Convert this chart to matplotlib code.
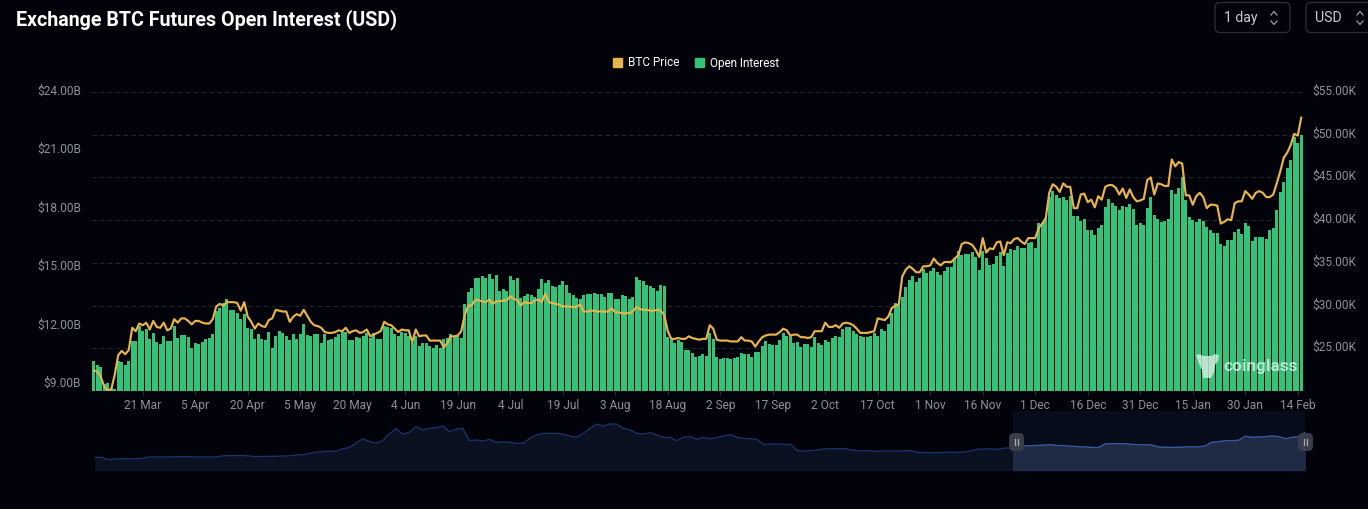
import matplotlib
matplotlib.use("Agg")
import matplotlib.pyplot as plt
import matplotlib.dates as mdates
from matplotlib.patches import FancyBboxPatch, Patch, Polygon, Rectangle
from matplotlib.transforms import ScaledTranslation
import pandas as pd

# -------------------------------
# Data
# -------------------------------
START_DATE = "2023-03-07"

open_interest_b = [
    10.17, 9.97, 9.86, 9.0, 9.03, 8.78, 8.73, 10.17, 10.15, 10.0, 10.2, 11.21, 11.22, 11.97, 11.72,
    11.82, 11.31, 11.6, 11.17, 11.07, 11.46, 11.21, 11.21, 11.96, 11.38, 11.5, 11.51, 11.4, 10.83, 11.09,
    11.07, 11.17, 11.31, 11.34, 11.55, 12.77, 12.91, 13.15, 13.37, 12.79, 12.79, 12.64, 12.33, 12.59, 11.87,
    11.84, 11.31, 11.55, 11.29, 11.26, 11.65, 10.85, 11.46, 11.7, 11.63, 11.48, 11.28, 11.55, 11.33, 11.55,
    12.06, 11.5, 11.46, 11.55, 11.55, 11.12, 11.57, 11.26, 11.31, 11.43, 11.58, 11.68, 11.67, 11.24, 11.28,
    11.41, 11.34, 11.45, 11.63, 11.36, 11.62, 11.31, 11.29, 11.97, 11.92, 11.89, 11.58, 11.46, 11.65, 11.62,
    11.45, 11.11, 11.48, 10.95, 11.12, 11.11, 10.94, 10.85, 11.02, 10.87, 11.33, 11.36, 11.58, 11.46, 11.46,
    11.36, 13.11, 13.71, 13.93, 14.46, 14.47, 14.54, 14.46, 14.66, 14.39, 14.59, 13.79, 13.86, 13.78, 14.54,
    14.34, 14.42, 13.42, 13.54, 13.62, 13.55, 13.49, 13.88, 14.37, 14.18, 14.32, 14.03, 14.0, 14.1, 14.29,
    14.08, 13.66, 13.57, 13.42, 13.38, 13.57, 13.62, 13.62, 13.66, 13.62, 13.61, 13.49, 13.69, 13.66, 13.35,
    13.37, 13.57, 13.5, 13.37, 13.45, 14.49, 14.35, 14.29, 14.1, 14.03, 13.93, 13.79, 14.08, 14.03, 11.41,
    11.24, 11.11, 11.24, 11.16, 10.73, 10.77, 10.61, 10.37, 10.44, 10.53, 10.46, 11.62, 11.31, 10.37, 10.27,
    10.31, 10.36, 10.27, 10.34, 10.39, 10.61, 10.53, 10.53, 10.41, 10.63, 10.65, 10.94, 11.23, 11.04, 11.0,
    10.99, 11.24, 11.6, 11.46, 11.48, 11.12, 11.14, 10.9, 11.04, 11.04, 10.88, 11.41, 11.09, 11.02, 11.26,
    11.17, 11.36, 11.48, 11.43, 11.84, 11.94, 11.94, 11.72, 11.57, 11.46, 11.41, 11.41, 11.45, 11.62, 11.45,
    11.82, 11.7, 12.08, 12.64, 13.18, 13.08, 13.49, 13.98, 14.35, 14.56, 14.24, 14.44, 14.92, 14.71, 14.81,
    14.97, 14.76, 14.61, 14.81, 15.03, 15.03, 15.46, 15.85, 15.61, 15.66, 15.66, 15.77, 15.53, 14.86, 15.83,
    15.48, 15.1, 15.15, 15.6, 15.8, 15.05, 15.73, 15.94, 15.88, 16.09, 15.97, 16.0, 16.24, 16.31, 15.97,
    17.25, 17.25, 17.53, 18.62, 18.9, 18.69, 18.54, 18.62, 18.45, 18.66, 17.62, 17.65, 17.36, 17.5, 16.89,
    16.92, 16.65, 17.01, 17.19, 18.08, 18.5, 18.3, 18.13, 17.93, 18.15, 18.11, 18.25, 18.01, 17.19, 17.26,
    17.16, 18.03, 18.62, 17.69, 17.5, 17.31, 17.36, 17.5, 18.95, 18.76, 19.08, 19.61, 18.45, 17.6, 17.4,
    17.33, 17.5, 17.36, 17.06, 16.89, 16.77, 16.75, 16.17, 16.11, 16.4, 16.41, 16.82, 16.94, 16.72, 17.28,
    17.13, 16.36, 16.55, 16.55, 16.53, 16.46, 16.89, 17.01, 17.96, 18.88, 19.37, 20.09, 20.51, 21.7, 21.4,
    21.79,
]

btc_price_k = [
    22.4, 22.3, 21.7, 20.5, 20.1, 20.2, 21.9, 24.2, 24.7, 24.3, 24.8, 27.4, 27.0, 27.9, 27.7,
    28.0, 27.2, 28.2, 27.5, 27.4, 28.0, 27.1, 27.3, 28.4, 28.0, 28.5, 28.5, 28.2, 27.8, 28.2,
    28.2, 28.0, 27.9, 27.9, 28.4, 29.9, 30.2, 30.0, 30.4, 30.4, 30.4, 30.3, 29.4, 30.4, 28.7,
    28.1, 27.3, 27.9, 27.6, 27.5, 28.3, 28.5, 29.5, 29.4, 29.3, 29.3, 28.1, 28.7, 29.0, 28.8,
    29.5, 28.8, 28.1, 27.7, 27.6, 27.4, 26.9, 26.8, 26.8, 26.9, 27.1, 27.0, 27.4, 26.8, 27.0,
    27.1, 26.8, 26.9, 27.2, 26.4, 26.6, 26.8, 27.0, 28.1, 27.8, 27.7, 27.3, 26.9, 27.2, 27.1,
    27.1, 25.7, 27.2, 26.4, 26.5, 26.5, 25.9, 25.9, 25.9, 25.9, 25.1, 25.6, 26.4, 26.4, 26.5,
    27.0, 28.9, 30.0, 30.0, 30.7, 30.6, 30.5, 30.4, 30.7, 30.2, 30.5, 30.5, 30.6, 30.6, 31.1,
    30.8, 30.6, 30.0, 30.4, 30.3, 30.3, 30.6, 30.7, 30.4, 31.4, 30.4, 30.3, 30.2, 30.1, 29.9,
    29.9, 29.9, 29.8, 29.9, 30.1, 29.3, 29.3, 29.4, 29.4, 29.3, 29.3, 29.3, 29.3, 29.7, 29.2,
    29.2, 29.1, 29.1, 29.1, 29.3, 29.8, 29.6, 29.5, 29.5, 29.4, 29.4, 29.5, 29.4, 28.9, 27.0,
    26.1, 26.1, 26.2, 26.1, 26.1, 26.4, 26.2, 26.1, 26.0, 26.1, 26.1, 27.7, 27.3, 26.0, 25.9,
    25.9, 25.9, 25.8, 25.8, 25.8, 26.3, 25.9, 25.9, 25.8, 25.2, 25.8, 26.3, 26.5, 26.6, 26.6,
    26.6, 26.9, 27.3, 27.1, 26.5, 26.6, 26.6, 26.3, 26.3, 26.2, 26.3, 27.0, 27.0, 27.0, 28.0,
    27.5, 27.5, 27.7, 27.4, 27.9, 28.0, 27.9, 27.7, 27.3, 26.8, 26.8, 26.8, 26.9, 27.0, 28.5,
    28.4, 28.3, 28.7, 29.7, 30.0, 30.1, 33.4, 34.2, 34.6, 34.3, 33.9, 33.9, 34.6, 34.6, 34.7,
    35.5, 35.0, 34.7, 35.1, 35.1, 35.1, 35.5, 35.9, 37.2, 37.4, 37.3, 37.1, 36.5, 35.7, 37.9,
    36.2, 36.7, 36.6, 37.4, 37.5, 35.9, 37.4, 37.3, 37.8, 37.9, 37.5, 37.2, 37.9, 37.9, 37.9,
    39.1, 39.6, 40.2, 43.2, 44.2, 43.9, 43.3, 44.3, 43.9, 43.9, 41.4, 41.4, 43.0, 43.1, 42.1,
    42.4, 41.5, 42.8, 42.4, 43.9, 44.1, 44.1, 43.8, 43.0, 43.7, 42.6, 43.6, 42.7, 42.2, 42.3,
    42.5, 44.7, 45.0, 43.0, 44.3, 44.2, 44.0, 44.0, 47.1, 46.3, 46.8, 46.6, 42.9, 42.9, 41.8,
    42.8, 43.2, 42.7, 41.4, 41.8, 41.8, 41.7, 39.6, 39.8, 40.1, 40.0, 42.0, 42.2, 42.2, 43.4,
    43.0, 42.5, 43.2, 43.4, 43.2, 42.7, 42.7, 43.0, 44.3, 45.7, 47.3, 47.9, 48.8, 50.1, 49.9,
    52.0,
]

# full history shown in the small navigator below the chart
navigator_b = [
    7.6, 7.6, 6.3, 6.7, 6.8, 6.8, 6.8, 7.0, 7.8, 7.8, 7.8, 7.8, 8.0, 8.0, 8.0, 7.8, 7.8, 7.8, 7.8, 8.4,
    8.6, 8.6, 8.6, 8.4, 8.0, 8.2, 8.2, 8.2, 8.4, 8.4, 8.9, 9.1, 9.7, 10.6, 10.8, 11.2, 11.0, 12.5, 13.1, 15.6,
    18.1, 16.7, 15.6, 17.1, 20.9, 23.9, 20.7, 21.9, 25.1, 23.2, 24.1, 24.5, 25.5, 22.2, 23.6, 24.1, 17.1, 17.5, 16.9, 17.9,
    16.0, 16.5, 16.2, 15.6, 15.6, 18.4, 20.3, 21.3, 21.3, 21.3, 20.7, 19.8, 19.0, 21.3, 24.1, 26.6, 25.5, 26.6, 26.6, 24.1,
    23.2, 21.3, 20.9, 21.7, 20.3, 19.0, 19.0, 17.1, 19.0, 19.4, 17.9,
    19.0, 18.2, 18.8, 19.8, 20.5, 19.0, 18.4, 18.2, 17.9, 15.0, 15.2, 15.2, 15.0, 15.0, 11.4, 11.2, 11.4, 11.8, 12.4, 12.4,
    12.5, 12.7, 11.8, 11.4, 11.2, 11.4, 11.0, 11.2, 11.2, 11.2, 11.4, 11.4, 10.5, 10.3, 10.3, 10.3, 10.5, 10.5, 10.5, 10.6,
    11.4, 12.2, 12.4, 12.4, 12.2, 12.9, 12.9, 12.2, 14.1, 14.3, 14.4, 14.6, 14.8, 14.3, 14.3, 13.9, 13.7, 13.5, 13.3, 13.1,
    15.2, 15.4, 15.4, 15.4, 15.0, 14.8, 14.8, 14.6, 13.5, 13.3, 13.3, 13.3, 13.5, 13.7, 13.5, 14.1, 16.2, 16.5, 17.1, 17.1,
    17.3, 19.6, 19.0, 19.2, 19.4, 19.8, 19.4, 18.2, 19.0, 19.4, 21.9,
]

x_tick_dates = [
    "2023-03-21", "2023-04-05", "2023-04-20", "2023-05-05", "2023-05-20", "2023-06-04",
    "2023-06-19", "2023-07-04", "2023-07-19", "2023-08-03", "2023-08-18", "2023-09-02",
    "2023-09-17", "2023-10-02", "2023-10-17", "2023-11-01", "2023-11-16", "2023-12-01",
    "2023-12-16", "2023-12-31", "2024-01-15", "2024-01-30", "2024-02-14",
]
x_tick_labels = [
    "21 Mar", "5 Apr", "20 Apr", "5 May", "20 May", "4 Jun", "19 Jun", "4 Jul", "19 Jul", "3 Aug",
    "18 Aug", "2 Sep", "17 Sep", "2 Oct", "17 Oct", "1 Nov", "16 Nov", "1 Dec", "16 Dec", "31 Dec",
    "15 Jan", "30 Jan", "14 Feb",
]
oi_ticks = [9, 12, 15, 18, 21, 24]
price_ticks = [25, 30, 35, 40, 45, 50, 55]

# -------------------------------
# Styling
# -------------------------------
BG = "#02030a"
GREEN = "#33c278"
GOLD = "#e9b44c"
TICK_COLOR = "#8d9196"
GRID_COLOR = "#23272c"
FONT = "Roboto"

W, H = 1368, 509
plt.rcParams["font.family"] = [FONT, "DejaVu Sans"]


def px_box(left, top, right, bottom):
    return [left / W, 1 - bottom / H, (right - left) / W, (bottom - top) / H]


fig = plt.figure(figsize=(W / 100, H / 100), dpi=100, facecolor=BG)

# -------------------------------
# Main chart
# -------------------------------
dates = pd.date_range(START_DATE, periods=len(open_interest_b), freq="D")
half_day = pd.Timedelta(hours=12)

# gridlines follow the price scale and sit behind the bars
ax_grid = fig.add_axes(px_box(92, 92, 1303, 391), facecolor=BG, zorder=1)
ax_grid.set_ylim(20, 55)
ax_grid.set_yticks(price_ticks)
ax_grid.set_xticks([])
ax_grid.set_yticklabels([])
ax_grid.tick_params(length=0)
ax_grid.grid(axis="y", color=GRID_COLOR, linestyle=(0, (4, 3)), linewidth=0.8)
for spine in ax_grid.spines.values():
    spine.set_visible(False)

ax = fig.add_axes(px_box(92, 92, 1303, 391), facecolor="none", zorder=2)
ax.bar(dates, open_interest_b, width=0.76, bottom=0, color=GREEN, zorder=2)
ax.set_xlim(dates[0] - half_day, dates[-1] + half_day)
ax.set_ylim(8.64, 23.9)
ax.set_yticks(oi_ticks)
ax.set_yticklabels([f"${v:.2f}B" for v in oi_ticks])
ax.set_xticks([mdates.date2num(pd.Timestamp(d)) for d in x_tick_dates])
ax.set_xticklabels(x_tick_labels)
ax.tick_params(axis="y", length=0, pad=8, labelsize=8.6, labelcolor=TICK_COLOR)
ax.tick_params(axis="x", length=3, width=0.8, color="#2a2e33", pad=3, labelsize=8.6, labelcolor=TICK_COLOR)
for spine in ax.spines.values():
    spine.set_visible(False)

ax_price = ax.twinx()
ax_price.set_zorder(3)
ax_price.set_ylim(20, 55)
ax_price.set_yticks(price_ticks)
ax_price.set_yticklabels([f"${v:.2f}K" for v in price_ticks])
ax_price.tick_params(axis="y", length=0, pad=7, labelsize=8.6, labelcolor=TICK_COLOR)
ax_price.plot(dates, btc_price_k, color=GOLD, linewidth=1.55, solid_joinstyle="round", zorder=4)
for spine in ax_price.spines.values():
    spine.set_visible(False)

# the value labels sit a little above their tick positions
label_shift = ScaledTranslation(0, 1.6 / 72, fig.dpi_scale_trans)
for label in ax.get_yticklabels() + ax_price.get_yticklabels():
    label.set_transform(label.get_transform() + label_shift)

# -------------------------------
# Title and legend
# -------------------------------
fig.text(16 / W, 1 - 20 / H, "Exchange BTC Futures Open Interest (USD)", color="white",
         fontsize=14.15, fontweight="bold", va="center", ha="left")

legend = fig.legend(
    handles=[Patch(color=GOLD, label="BTC Price"), Patch(color=GREEN, label="Open Interest")],
    loc="center", bbox_to_anchor=(696 / W, 1 - 63 / H), ncol=2, frameon=False, labelcolor="white",
    fontsize=8.5, handlelength=0.8, handleheight=0.8, handletextpad=0.5, columnspacing=1.3,
)

# -------------------------------
# Navigator
# -------------------------------
nav_dates = pd.date_range("2020-02-27", "2024-02-16", periods=len(navigator_b))
nav = fig.add_axes(px_box(95, 411, 1305.5, 470.7), facecolor="none", zorder=4)
nav.fill_between(nav_dates, navigator_b, 0, color="#0a1222", linewidth=0)
nav.plot(nav_dates, navigator_b, color="#1d3470", linewidth=0.9)
nav.set_xlim(nav_dates[0], nav_dates[-1])
nav.set_ylim(0, 34)
nav.axis("off")

window_start = mdates.date2num(pd.Timestamp("2023-03-03"))
window = Rectangle((window_start, 0), mdates.date2num(nav_dates[-1]) - window_start, 34,
                   facecolor="#070c1a", edgecolor="none", zorder=1.5)
nav.add_patch(window)
selected = nav.fill_between(nav_dates, navigator_b, 0, color="#1f2a45", linewidth=0, zorder=2)
selected.set_clip_path(window)
selected_line, = nav.plot(nav_dates, navigator_b, color="#3a5a9e", linewidth=0.9, zorder=3)
selected_line.set_clip_path(window)

# -------------------------------
# Page furniture, in pixel coordinates
# -------------------------------
page = fig.add_axes([0, 0, 1, 1], facecolor="none", zorder=6)
page.set_xlim(0, W)
page.set_ylim(H, 0)
page.axis("off")


def select_box(left, right, label):
    page.add_patch(FancyBboxPatch((left, 2.5), right - left, 30, boxstyle="round,pad=0,rounding_size=5",
                                  facecolor="none", edgecolor="#2b2f36", linewidth=0.9))
    page.text(left + 9, 18, label, color="#c9cbce", fontsize=10.2, va="center", ha="left")


def chevrons(x):
    page.plot([x - 3, x, x + 3], [15, 11.5, 15], color="#9a9da1", linewidth=0.9)
    page.plot([x - 3, x, x + 3], [21, 24.5, 21], color="#9a9da1", linewidth=0.9)


select_box(1215, 1290, "1 day")
chevrons(1274)
select_box(1306, 1380, "USD")
chevrons(1360)

for left in (1009, 1298):
    page.add_patch(FancyBboxPatch((left, 433), 15, 18, boxstyle="round,pad=0,rounding_size=5",
                                  facecolor="#3a3e4b", edgecolor="none"))
    page.plot([left + 6, left + 6], [439, 445], color="#a9acb4", linewidth=0.9)
    page.plot([left + 9, left + 9], [439, 445], color="#a9acb4", linewidth=0.9)

# coinglass watermark
logo = Polygon([(1196, 355), (1200, 354), (1203, 356), (1212, 356), (1215, 354), (1219, 355), (1218, 361),
                (1215, 365), (1214, 372), (1211, 378), (1203, 378), (1202, 370), (1199, 364)],
               closed=True, facecolor="#d9efe3", edgecolor="none", alpha=0.8)
page.add_patch(logo)
page.text(1224, 366, "coinglass", color="#d9efe3", alpha=0.8, fontsize=12.4, fontweight="bold",
          va="center", ha="left")

fig.savefig("out.png", dpi=100, facecolor=BG)
